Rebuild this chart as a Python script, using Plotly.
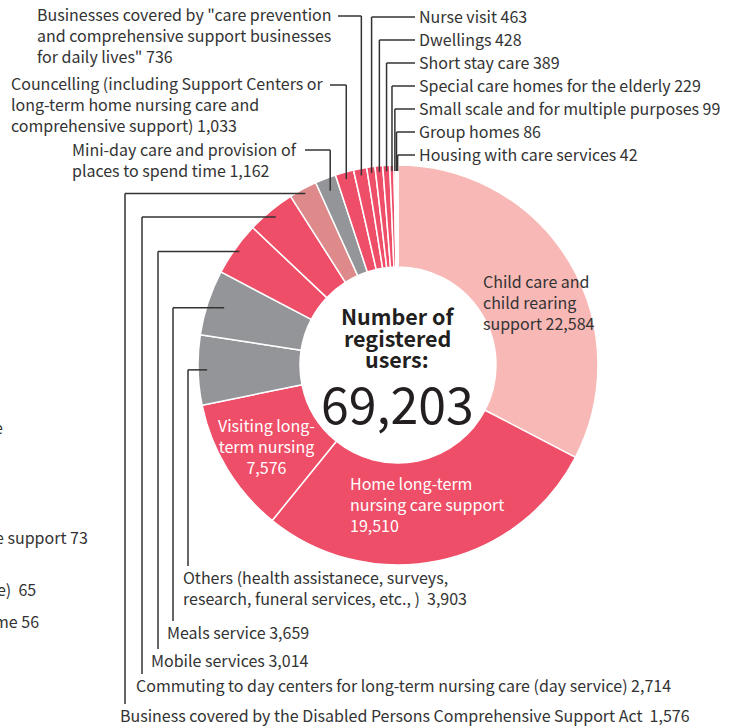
import math
import plotly.graph_objects as go

# ---------------- data ----------------
categories = [
    "Child care and child rearing support",
    "Home long-term nursing care support",
    "Visiting long-term nursing",
    "Others (health assistanece, surveys, research, funeral services, etc., )",
    "Meals service",
    "Mobile services",
    "Commuting to day centers for long-term nursing care (day service)",
    "Business covered by the Disabled Persons Comprehensive Support Act",
    "Mini-day care and provision of places to spend time",
    "Councelling (including Support Centers or long-term home nursing care and comprehensive support)",
    'Businesses covered by "care prevention and comprehensive support businesses for daily lives"',
    "Nurse visit",
    "Dwellings",
    "Short stay care",
    "Special care homes for the elderly",
    "Small scale and for multiple purposes",
    "Group homes",
    "Housing with care services",
]
values = [22584, 19510, 7576, 3903, 3659, 3014, 2714, 1576, 1162, 1033, 736,
          463, 428, 389, 229, 99, 86, 42]
groups = ["child", "red", "red", "gray", "gray", "red", "red", "dusty", "gray",
          "red", "red", "red", "red", "red", "red", "red", "red", "red"]
display = [
    "Child care and<br>child rearing<br>support {v}",
    "Home long-term<br>nursing care support<br>{v}",
    "Visiting long-<br>term nursing<br>{v}",
    "Others (health assistanece, surveys,<br>research, funeral services, etc., )  {v}",
    "Meals service {v}",
    "Mobile services {v}",
    "Commuting to day centers for long-term nursing care (day service) {v}",
    "Business covered by the Disabled Persons Comprehensive Support Act  {v}",
    "Mini-day care and provision of<br>places to spend time {v}",
    "Councelling (including Support Centers or<br>long-term home nursing care and<br>comprehensive support) {v}",
    'Businesses covered by "care prevention<br>and comprehensive support businesses<br>for daily lives" {v}',
    "Nurse visit {v}",
    "Dwellings {v}",
    "Short stay care {v}",
    "Special care homes for the elderly {v}",
    "Small scale and for multiple purposes {v}",
    "Group homes {v}",
    "Housing with care services {v}",
]
center_title = ["Number of", "registered", "users:"]
# clipped labels belonging to a neighbouring chart at the left edge
edge_fragments = ["e", "e support 73", "e)  65", "me 56"]

# ---------------- styling / layout ----------------
W, H = 739, 726
CX, CY, R = 398, 365, 200
palette = {"child": "#F8B9B6", "red": "#EE4E67", "gray": "#939598", "dusty": "#DE8A8B"}
TXT = "#333333"
FONT = "Noto Sans CJK JP, Source Sans Pro, Noto Sans, sans-serif"
PAD = 2  # annotation inner padding compensation


def px(x):
    return x / W


def py(y):
    return 1 - y / H


total = sum(values)
mid_angles = []
acc = 0
for v in values:
    mid_angles.append((acc + v / 2) / total * 2 * math.pi)
    acc += v


def pt(i, r):
    a = mid_angles[i]
    return CX + r * math.sin(a), CY - r * math.cos(a)


fig = go.Figure(go.Pie(
    labels=categories,
    values=values,
    sort=False,
    direction="clockwise",
    rotation=0,
    hole=0.49,
    textinfo="none",
    marker=dict(colors=[palette[g] for g in groups], line=dict(color="white", width=1.5)),
    domain=dict(x=[px(CX - R), px(CX + R)], y=[py(CY + R), py(CY - R)]),
    showlegend=False,
    hoverinfo="label+value",
))

annotations = []
shapes = []


def add_text(text, x, y, size=16, color=TXT, xanchor="left", align="left", bold=False):
    if xanchor == "left":
        x -= PAD
    elif xanchor == "right":
        x += PAD
    annotations.append(dict(
        text=text, x=px(x), y=py(y - 1), xref="paper", yref="paper",
        xanchor=xanchor, yanchor="middle", align=align, showarrow=False,
        font=dict(family=FONT, size=size, color=color, weight="bold" if bold else "normal"),
    ))


def add_line(x0, y0, x1, y1):
    shapes.append(dict(type="line", xref="paper", yref="paper",
                       x0=px(x0), y0=py(y0), x1=px(x1), y1=py(y1),
                       line=dict(color="#333333", width=1.5)))


def label(i):
    return display[i].format(v=f"{values[i]:,}")


# in-slice labels
add_text(label(0), 483, 303)
add_text(label(1), 350, 505, color="white")
add_text(label(2), 266, 447, color="white", xanchor="center", align="center")

# left-side labels with leaders running down to text below
left_specs = {  # index: (vertical x, text x, text y, leader radius)
    3: (188, 183, 588, 191),
    4: (173, 167, 633, 183),
    5: (158, 151, 661, 195),
    6: (142, 136, 686, 192),
    7: (125, 120, 716, 195),
}
for i, (vx, tx, ty, r) in left_specs.items():
    ex, ey = pt(i, r)
    add_line(ex, ey, vx, ey)
    top = ty - (18 if "<br>" in display[i] else 8) - 4
    add_line(vx, ey, vx, top)
    add_text(label(i), tx, ty)

# upper-left labels
upper_left = {  # index: (text x, text y (middle), first line y, text end x, radius)
    8: (72, 160.5, 150, 305, 187),
    9: (11, 105, 85, 330, 193),
    10: (37, 36.5, 16, 338, 193),
}
for i, (tx, ty, ly, endx, r) in upper_left.items():
    ex, ey = pt(i, r)
    add_line(endx, ly, ex, ly)
    add_line(ex, ly, ex, ey)
    add_text(label(i), tx, ty)

# upper-right labels
right_y = [17, 40, 63, 86, 109, 132, 155]
for k, i in enumerate(range(11, 18)):
    ex, ey = pt(i, 194)
    ly = right_y[k]
    add_line(ex, ey, ex, ly)
    add_line(ex, ly, 415, ly)
    add_text(label(i), 419, ly)

# centre text
for t, y in zip(center_title, [316, 338, 360]):
    add_text(t, 397, y, size=21.5, color="#231F20", xanchor="center", align="center", bold=True)
add_text(f"{total:,}", 397, 403, size=50, color="#231F20", xanchor="center", align="center")

# fragments clipped at the left border
for t, (x, y) in zip(edge_fragments, [(3, 428), (88, 538), (36, 590), (39, 622)]):
    add_text(t, x, y, xanchor="right")

fig.update_layout(
    width=W, height=H,
    margin=dict(l=0, r=0, t=0, b=0),
    paper_bgcolor="white", plot_bgcolor="white",
    annotations=annotations, shapes=shapes,
    font=dict(family=FONT, color=TXT),
)
fig.write_html("out.html", post_script="document.body.style.margin='0';",
               config={"displayModeBar": False})
